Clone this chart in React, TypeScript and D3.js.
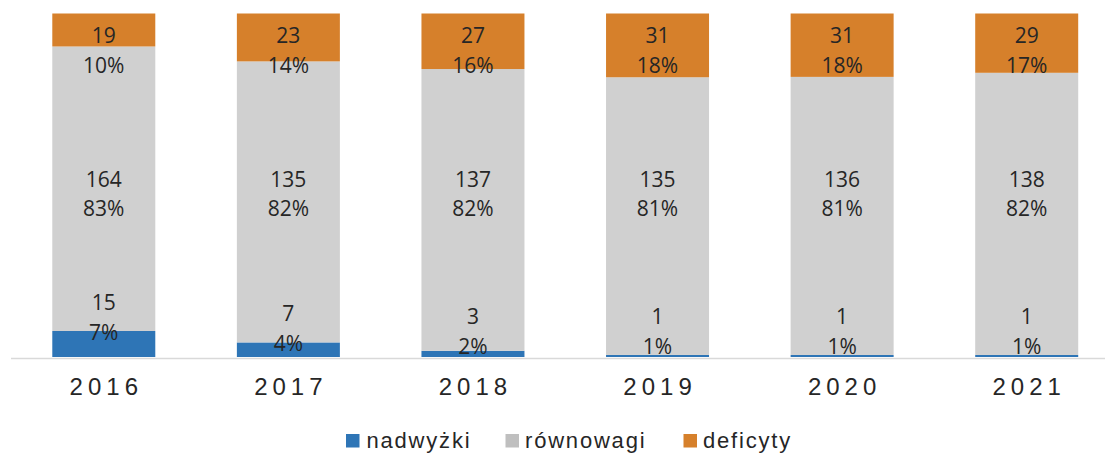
import React from "react";
import * as d3 from "d3";

const years = ["2016", "2017", "2018", "2019", "2020", "2021"];
const nadwyzki = [15, 7, 3, 1, 1, 1];
const rownowagi = [164, 135, 137, 135, 136, 138];
const deficyty = [19, 23, 27, 31, 31, 29];
const pctNadwyzki = ["7%", "4%", "2%", "1%", "1%", "1%"];
const pctRownowagi = ["83%", "82%", "82%", "81%", "81%", "82%"];
const pctDeficyty = ["10%", "14%", "16%", "18%", "18%", "17%"];
const seriesNames = ["nadwyżki", "równowagi", "deficyty"];

const W = 1105;
const H = 455;
const COLORS = ["#2E75B6", "#D0D0D0", "#D6802B"];
const LEGEND_COLORS = ["#2E75B6", "#BFBFBF", "#D6802B"];
const LABEL_FONT = "'Open Sans', 'Noto Sans', sans-serif";
const AXIS_FONT = "'Liberation Sans', Arial, sans-serif";

export default function App() {
  const x = d3
    .scaleBand<string>()
    .domain(years)
    .range([11.5, 1119])
    .paddingInner(0.442)
    .paddingOuter(0.221);
  const y = d3.scaleLinear().domain([0, 1]).range([357, 13.5]);

  const rows = years.map((yr, i) => {
    const vals = [nadwyzki[i], rownowagi[i], deficyty[i]];
    const total = d3.sum(vals);
    let acc = 0;
    const segs = vals.map((v, k) => {
      const y0 = acc / total;
      acc += v;
      const y1 = acc / total;
      return { k, v, y0, y1 };
    });
    return { yr, i, segs };
  });

  const pcts = [pctNadwyzki, pctRownowagi, pctDeficyty];
  const midY = (y(0) + y(1)) / 2;

  const legendItems = [
    { sx: 346, tx: 366.5 },
    { sx: 505.5, tx: 525 },
    { sx: 683.5, tx: 703 },
  ];

  return (
    <svg width={W} height={H} style={{ position: "absolute", left: 0, top: 0 }}>
      <rect width={W} height={H} fill="#fff" />
      {rows.map((r) => {
        const bx = x(r.yr)!;
        const bw = x.bandwidth();
        const cx = bx + bw / 2;
        return (
          <g key={r.yr}>
            {r.segs.map((s) => (
              <rect
                key={s.k}
                x={bx}
                y={y(s.y1)}
                width={bw}
                height={y(s.y0) - y(s.y1)}
                fill={COLORS[s.k]}
              />
            ))}
          </g>
        );
      })}
      <line x1={11} x2={W} y1={358.5} y2={358.5} stroke="#D9D9D9" strokeWidth={1.5} />
      {rows.map((r) => {
        const bx = x(r.yr)!;
        const cx = bx + x.bandwidth() / 2;
        return (
          <g key={"l" + r.yr} fontFamily={LABEL_FONT} fontSize={21} fill="#262626" textAnchor="middle">
            {r.segs.map((s) => {
              let b1: number;
              if (s.k === 2) {
                b1 = y(1) + 29;
              } else if (s.k === 1) {
                b1 = midY + 2;
              } else {
                b1 = Math.min(354, y(s.y1) + 9) - 30;
              }
              const b2 = s.k === 1 ? b1 + 29 : b1 + 30;
              return (
                <g key={s.k}>
                  <text x={cx} y={b1}>{s.v}</text>
                  <text x={cx} y={b2}>{pcts[s.k][r.i]}</text>
                </g>
              );
            })}
            <text
              x={cx + 2.5}
              y={395}
              fontFamily={AXIS_FONT}
              fontSize={24}
              letterSpacing={5}
              fill="#262626"
            >
              {r.yr}
            </text>
          </g>
        );
      })}
      {seriesNames.map((name, k) => (
        <g key={name}>
          <rect x={legendItems[k].sx} y={434} width={13.5} height={13.5} fill={LEGEND_COLORS[k]} />
          <text
            x={legendItems[k].tx}
            y={447.5}
            fontFamily={AXIS_FONT}
            fontSize={22}
            letterSpacing={1.8}
            fill="#262626"
          >
            {name}
          </text>
        </g>
      ))}
    </svg>
  );
}
